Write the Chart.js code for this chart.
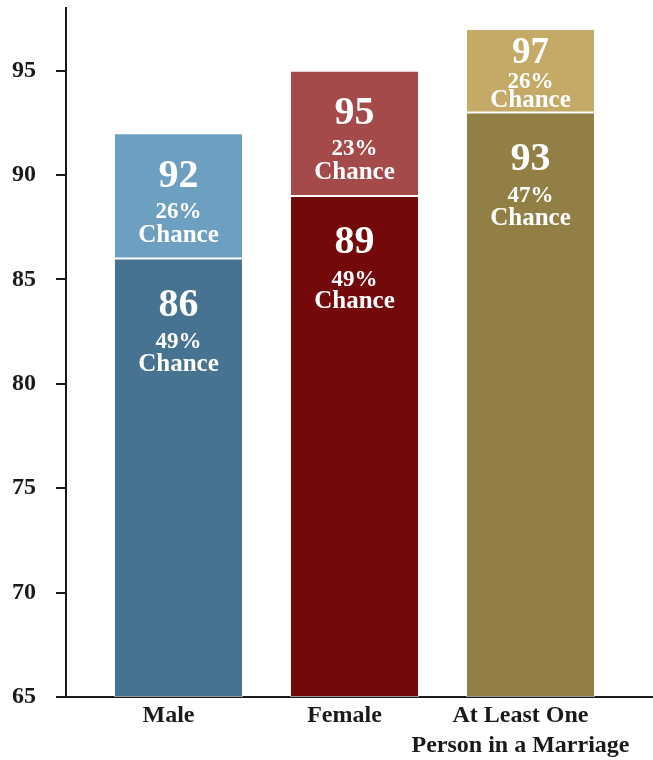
<!DOCTYPE html>
<html>
<head>
<meta charset="utf-8">
<script src="https://cdn.jsdelivr.net/npm/chart.js@4"></script>
<style>
  html, body { margin: 0; padding: 0; background: #fff; }
  #wrap { width: 653px; height: 760px; }
</style>
</head>
<body>
<div id="wrap"><canvas id="chart"></canvas></div>
<script>
// ---- data ----
const categories = [['Male'], ['Female'], ['At Least One', 'Person in a Marriage']];
const yMin = 65;
const yMax = 98;
const lowerAge = [86, 89, 93];
const lowerChance = ['49%', '49%', '47%'];
const upperAge = [92, 95, 97];
const upperChance = ['26%', '23%', '26%'];

const lowerColors = ['#467391', '#73090A', '#927F46'];
const upperColors = ['#6DA0C0', '#A44A4A', '#C4AA66'];
const SERIF = '"Liberation Serif", "DejaVu Serif", serif';
const INK = '#1a1a1a';

// each bar sits at x = 1, 2, 3 on a linear index axis
const lowerData = lowerAge.map((v, i) => ({ x: i + 1, y: [yMin, v] }));
const upperData = upperAge.map((v, i) => ({ x: i + 1, y: [lowerAge[i], v] }));

// text lines inside a segment, measured down from its top edge (glyph centres)
function lineOffsets(isUpper, h) {
  if (h < 100) return [22, 51, 70];        // short segment: squeeze lines
  return isUpper ? [40, 77, 100] : [44, 82, 104];
}

// value + "xx% Chance" written inside each segment
const segmentLabels = {
  id: 'segmentLabels',
  afterDatasetsDraw(chart) {
    const ctx = chart.ctx;
    ctx.save();
    ctx.fillStyle = '#ffffff';
    ctx.textAlign = 'center';
    ctx.textBaseline = 'alphabetic';
    const line = (txt, size, x, cy) => {
      ctx.font = 'bold ' + size + 'px ' + SERIF;
      ctx.fillText(txt, x, cy + size * 0.338);
    };
    chart.data.datasets.forEach((ds, di) => {
      chart.getDatasetMeta(di).data.forEach((bar, i) => {
        const top = Math.min(bar.y, bar.base);
        const h = Math.abs(bar.base - bar.y);
        const offs = lineOffsets(di === 1, h);
        line(String(ds.data[i].y[1]), h < 100 ? 37 : 40, bar.x, top + offs[0]);
        line(ds.chance[i], 23, bar.x, top + offs[1]);
        line('Chance', 25, bar.x, top + offs[2]);
      });
    });
    ctx.restore();
  }
};

new Chart(document.getElementById('chart').getContext('2d'), {
  type: 'bar',
  data: {
    datasets: [
      { data: lowerData, chance: lowerChance, backgroundColor: lowerColors,
        borderColor: 'rgba(255,255,255,0.55)', borderWidth: 1, borderSkipped: false },
      { data: upperData, chance: upperChance, backgroundColor: upperColors,
        borderColor: 'rgba(255,255,255,0.55)', borderWidth: 1, borderSkipped: false }
    ]
  },
  options: {
    responsive: true, maintainAspectRatio: false, animation: false,
    grouped: false,
    barPercentage: 0.733, categoryPercentage: 1,
    layout: { padding: { top: 8, right: 0, bottom: 0, left: 0 } },
    plugins: { legend: { display: false }, tooltip: { enabled: false } },
    scales: {
      x: {
        type: 'linear', min: 0.361, max: 3.696, offset: false,
        afterBuildTicks: s => { s.ticks = categories.map((_, i) => ({ value: i + 1 })); },
        afterFit: s => { s.height = 63; s.paddingLeft = 0; s.paddingRight = 0; },
        grid: { display: false, drawTicks: false, offset: false },
        border: { display: true, color: INK, width: 2 },
        ticks: {
          callback: v => categories[v - 1],
          color: INK, padding: 4, labelOffset: -10, maxRotation: 0, autoSkip: false,
          font: { family: SERIF, size: 24, weight: 'bold', lineHeight: 1.25 }
        }
      },
      y: {
        min: yMin, max: yMax,
        afterBuildTicks: s => { s.ticks = s.ticks.filter(t => t.value % 5 === 0); },
        afterFit: s => { s.width = 66; s.paddingTop = 0; s.paddingBottom = 0; },
        grid: { drawOnChartArea: false, drawTicks: true, tickLength: 10, color: INK, lineWidth: 2 },
        border: { display: true, color: INK, width: 2 },
        ticks: {
          stepSize: 5, color: INK, padding: 20,
          font: { family: SERIF, size: 24, weight: 'bold' }
        }
      }
    }
  },
  plugins: [segmentLabels]
});
</script>
</body>
</html>
